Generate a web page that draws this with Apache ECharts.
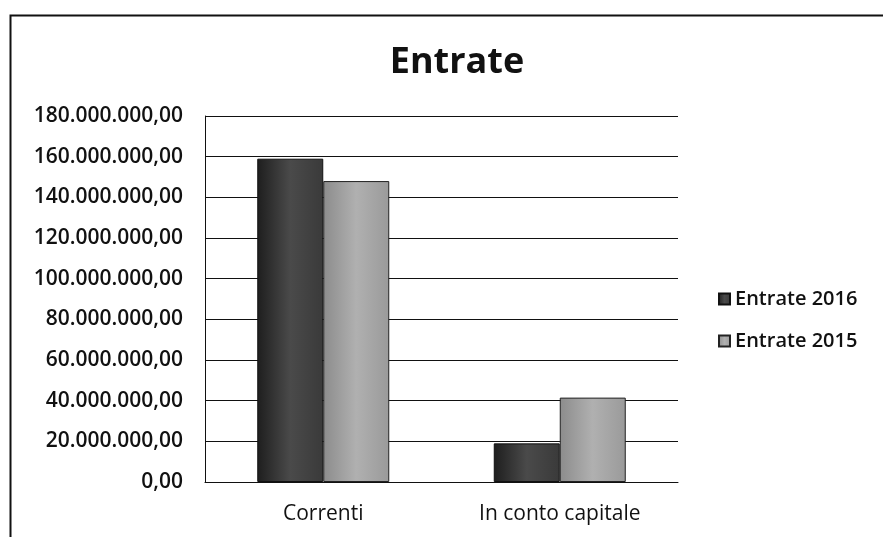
<!DOCTYPE html>
<html>
<head>
<meta charset="utf-8">
<script src="https://cdn.jsdelivr.net/npm/echarts@6/dist/echarts.min.js"></script>
<style>
  html, body { margin: 0; padding: 0; background: #fff; }
  #chart { width: 883px; height: 537px; }
</style>
</head>
<body>
<div id="chart"></div>
<script>
const categories = ['Correnti', 'In conto capitale']
const entrate2016 = [159000000, 19000000]
const entrate2015 = [148000000, 41500000]
const yTicks = { min: 0, max: 180000000, interval: 20000000 }

function formatEuro(v) {
  const intPart = Math.round(v).toString().replace(/\B(?=(\d{3})+(?!\d))/g, '.')
  return intPart + ',00'
}

const font = '"Open Sans", "Noto Sans", sans-serif'

const chart = echarts.init(document.getElementById('chart'))
chart.setOption({
  animation: false,
  backgroundColor: '#fff',
  title: {
    text: 'Entrate',
    left: 452,
    top: 40,
    textAlign: 'center',
    textStyle: { fontFamily: font, fontSize: 36, fontWeight: 'bold', color: '#111' }
  },
  legend: {
    orient: 'vertical',
    left: 713,
    top: 284,
    itemWidth: 11,
    itemHeight: 11,
    itemGap: 22,
    icon: 'rect',
    textStyle: { fontFamily: font, fontSize: 20, fontWeight: 600, color: '#111' },
    data: ['Entrate 2016', 'Entrate 2015']
  },
  grid: { left: 205, right: 205, top: 116, bottom: 55 },
  xAxis: {
    type: 'category',
    data: categories,
    axisLine: { lineStyle: { color: '#111', width: 1 } },
    axisTick: { show: false },
    axisLabel: { fontFamily: font, fontSize: 21, color: '#111', margin: 22 }
  },
  yAxis: {
    type: 'value',
    min: yTicks.min,
    max: yTicks.max,
    interval: yTicks.interval,
    axisLine: { show: true, lineStyle: { color: '#111', width: 1 } },
    axisTick: { show: true, length: 4, inside: true, lineStyle: { color: '#111' } },
    splitLine: { lineStyle: { color: '#111', width: 1 } },
    axisLabel: { fontFamily: font, fontSize: 21, fontWeight: 600, color: '#111', margin: 22, formatter: formatEuro }
  },
  series: [
    {
      name: 'Entrate 2016',
      type: 'bar',
      data: entrate2016,
      barWidth: 66,
      barGap: '0%',
      itemStyle: {
        color: new echarts.graphic.LinearGradient(0, 0, 1, 0, [
          { offset: 0, color: '#1e1e1e' },
          { offset: 0.5, color: '#4a4a4a' },
          { offset: 1, color: '#3a3a3a' }
        ]),
        borderColor: '#111',
        borderWidth: 1
      }
    },
    {
      name: 'Entrate 2015',
      type: 'bar',
      data: entrate2015,
      barWidth: 66,
      itemStyle: {
        color: new echarts.graphic.LinearGradient(0, 0, 1, 0, [
          { offset: 0, color: '#8c8c8c' },
          { offset: 0.5, color: '#b0b0b0' },
          { offset: 1, color: '#9a9a9a' }
        ]),
        borderColor: '#222',
        borderWidth: 1
      }
    }
  ],
  graphic: [
    {
      type: 'rect',
      left: 8,
      top: 13,
      shape: { width: 900, height: 560 },
      style: { fill: 'none', stroke: '#111', lineWidth: 2 },
      silent: true
    }
  ]
})
</script>
</body>
</html>
